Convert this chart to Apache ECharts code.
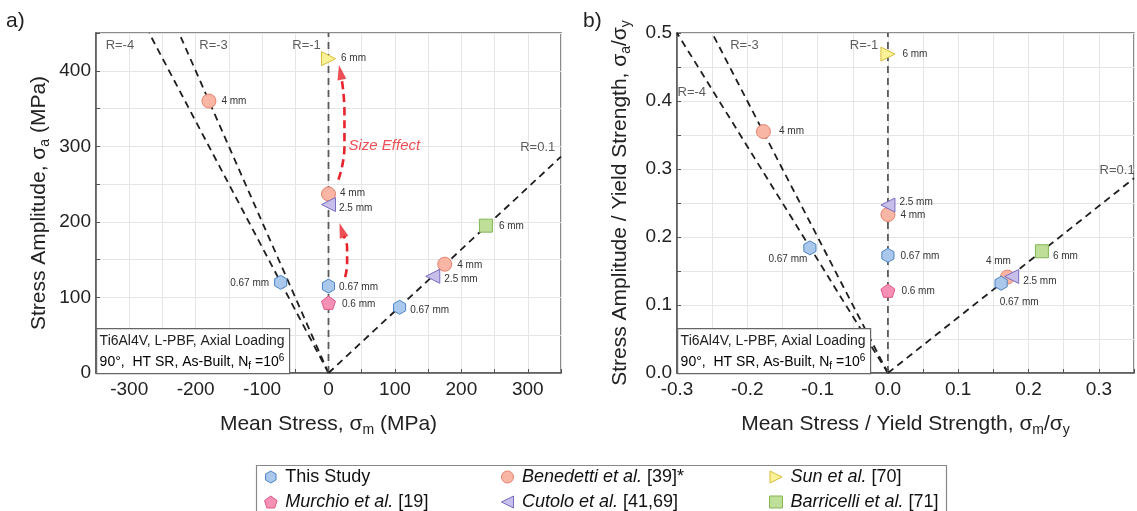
<!DOCTYPE html>
<html>
<head>
<meta charset="utf-8">
<script src="https://cdn.jsdelivr.net/npm/echarts@6/dist/echarts.min.js"></script>
<style>
  html, body { margin: 0; padding: 0; background: #fff; }
  #chart { width: 1137px; height: 511px; }
</style>
</head>
<body>
<div id="chart"></div>
<script>
// Fatigue strength at 1e6 cycles of L-PBF Ti6Al4V:
// (a) stress amplitude vs mean stress, (b) both normalised by yield strength.

// ---- panel a: [mean stress, stress amplitude] in MPa ----
const thisStudyA  = [[-72, 120], [0, 115], [107, 87]];
const murchioA    = [[0, 93]];
const benedettiA  = [[-180, 360], [0, 237], [175, 144]];
const cutoloA     = [[0, 223], [157, 128]];
const sunA        = [[0, 416]];
const barricelliA = [[237, 195]];

// ---- panel b: [mean / yield, amplitude / yield] ----
const thisStudyB  = [[-0.111, 0.184], [0, 0.173], [0.161, 0.132]];
const murchioB    = [[0, 0.121]];
const benedettiB  = [[-0.177, 0.355], [0, 0.233], [0.170, 0.141]];
const cutoloB     = [[0, 0.247], [0.176, 0.142]];
const sunB        = [[0, 0.469]];
const barricelliB = [[0.219, 0.179]];

// ---- specimen sizes written next to each point ----
const thisStudySize  = ['0.67 mm', '0.67 mm', '0.67 mm'];
const murchioSize    = ['0.6 mm'];
const benedettiSize  = ['4 mm', '4 mm', '4 mm'];
const cutoloSize     = ['2.5 mm', '2.5 mm'];
const sunSize        = ['6 mm'];
const barricelliSize = ['6 mm'];

// ---- constant stress-ratio lines (from the origin to the frame) ----
const rLabels = ['R=-4', 'R=-3', 'R=-1', 'R=0.1'];
const rEndsA  = [[-270, 450], [-225, 450], [0, 450], [350, 286.4]];
const rEndsB  = [[-0.3, 0.5], [-0.25, 0.5], [0, 0.5], [0.35, 0.2864]];

// ---- tick labels ----
const xTicksA = [-300, -200, -100, 0, 100, 200, 300];
const yTicksA = [0, 100, 200, 300, 400];
const xTicksB = [-0.3, -0.2, -0.1, 0.0, 0.1, 0.2, 0.3];
const yTicksB = [0.0, 0.1, 0.2, 0.3, 0.4, 0.5];

// ---- legend names ----
const NAMES = {
  thisStudy:  'This Study',
  murchio:    'Murchio et al. [19]',
  benedetti:  'Benedetti et al. [39]*',
  cutolo:     'Cutolo et al. [41,69]',
  sun:        'Sun et al. [70]',
  barricelli: 'Barricelli et al. [71]'
};

// ---------------------------------------------------------------
const FONT = 'Arial, "Liberation Sans", sans-serif';
const HEX  = 'path://M0,-10L8.66,-5L8.66,5L0,10L-8.66,5L-8.66,-5Z';
const PENT = 'path://M0,-10L9.51,-3.09L5.88,8.09L-5.88,8.09L-9.51,-3.09Z';
const TRI_RIGHT = 'path://M10,5L0,10L0,0Z';
const TRI_LEFT  = 'path://M0,5L10,0L10,10Z';

const STYLE = {
  thisStudy:  { symbol: HEX,        rotate: 0,   fill: '#a9c8ec', line: '#4d84c6', z: 6 },
  murchio:    { symbol: PENT,       rotate: 0,   fill: '#f690b4', line: '#e05a8a', z: 5 },
  benedetti:  { symbol: 'circle',   rotate: 0,   fill: '#f9b6a5', line: '#e8806c', z: 3 },
  cutolo:     { symbol: 'triangle', rotate: 90,  fill: '#c7bfea', line: '#7a6cc2', z: 4 },
  sun:        { symbol: 'triangle', rotate: -90, fill: '#fbf196', line: '#d9bd3a', z: 4 },
  barricelli: { symbol: 'rect',     rotate: 0,   fill: '#bfdf98', line: '#82b655', z: 4 }
};

// where each size label sits relative to its marker
const R = (d, dy) => ({ position: 'right', distance: d, offset: [0, dy || 0] });
const L = (d, dy) => ({ position: 'left', distance: d, offset: [0, dy || 0] });
const AT = (dx, dy) => ({ position: 'inside', offset: [dx, dy] });

const PLACE_A = {
  thisStudy:  [L(5, 1), R(4, 1), R(4, 3)],
  murchio:    [R(6, 2)],
  benedetti:  [R(5, 0), R(4, -1), R(5, 1)],
  cutolo:     [R(3, 4), R(4, 3)],
  sun:        [R(5, 0)],
  barricelli: [R(6, 1)]
};
const PLACE_B = {
  thisStudy:  [AT(-22, 11), R(6, 1), AT(18, 19)],
  murchio:    [R(6, 1)],
  benedetti:  [R(8, 0), R(5, 1), AT(-9, -16)],
  cutolo:     [R(4, -3), R(4, 5)],
  sun:        [R(7, 0)],
  barricelli: [R(4, 5)]
};

const DATA_A = { thisStudy: thisStudyA, murchio: murchioA, benedetti: benedettiA,
                 cutolo: cutoloA, sun: sunA, barricelli: barricelliA };
const DATA_B = { thisStudy: thisStudyB, murchio: murchioB, benedetti: benedettiB,
                 cutolo: cutoloB, sun: sunB, barricelli: barricelliB };
const SIZES  = { thisStudy: thisStudySize, murchio: murchioSize, benedetti: benedettiSize,
                 cutolo: cutoloSize, sun: sunSize, barricelli: barricelliSize };

function markerSeries(key, panel) {
  const st = STYLE[key];
  const values = panel === 0 ? DATA_A[key] : DATA_B[key];
  const places = panel === 0 ? PLACE_A[key] : PLACE_B[key];
  return {
    type: 'scatter',
    name: NAMES[key],
    xAxisIndex: panel, yAxisIndex: panel,
    symbol: st.symbol,
    symbolRotate: st.rotate,
    symbolKeepAspect: true,
    symbolSize: st.symbol === 'rect' ? 13 : 14,
    z: st.z,
    itemStyle: { color: st.fill, borderColor: st.line, borderWidth: 1, opacity: 1 },
    label: { show: true, fontSize: 10, color: '#333', fontFamily: FONT },
    emphasis: { disabled: true },
    data: values.map((v, i) => ({
      value: v,
      label: Object.assign({ formatter: SIZES[key][i] }, places[i])
    }))
  };
}

function rLineSeries(ends, panel) {
  return ends.map((end, i) => ({
    type: 'line',
    xAxisIndex: panel, yAxisIndex: panel,
    symbol: 'none', silent: true, z: 2,
    lineStyle: { color: rLabels[i] === 'R=-1' ? '#5a5a5a' : '#1e1e1e', width: 1.8, type: [7, 5] },
    data: [[0, 0], end]
  }));
}

// anchors for the R= captions (data units)
const R_TEXT_A = [[-314, 434], [-173, 434], [-33, 434], [315, 299]];
const R_TEXT_B = [[-0.279, 0.413], [-0.204, 0.482], [-0.034, 0.482], [0.326, 0.2985]];
function rTextSeries(anchors, panel) {
  return {
    type: 'scatter', xAxisIndex: panel, yAxisIndex: panel,
    symbolSize: 0, silent: true, z: 7,
    label: { show: true, position: 'inside', fontSize: 13, color: '#333', fontFamily: FONT },
    data: anchors.map((a, i) => ({ value: a, label: { formatter: rLabels[i] } }))
  };
}

// "Size Effect" arrows in panel a (data units)
const arrowUpperPath = [[15, 256], [24, 300], [24, 345], [20, 388]];
const arrowLowerPath = [[25, 127], [28, 145], [28, 166], [23, 181]];
const arrowHeads = [
  { at: [18, 398], rotate: 11 },
  { at: [20, 189], rotate: 18 }
];
const RED = '#e8232b';

function arrowSeries() {
  const shaft = path => ({
    type: 'line', xAxisIndex: 0, yAxisIndex: 0, symbol: 'none', silent: true,
    smooth: true, z: 6,
    lineStyle: { color: RED, width: 2.6, type: [8, 5] },
    data: path
  });
  return [
    shaft(arrowUpperPath),
    shaft(arrowLowerPath),
    {
      type: 'scatter', xAxisIndex: 0, yAxisIndex: 0, silent: true, z: 6,
      symbol: 'triangle', symbolSize: [9, 15],
      itemStyle: { color: RED },
      data: arrowHeads.map(h => ({ value: h.at, symbolRotate: h.rotate }))
    },
    {
      type: 'scatter', xAxisIndex: 0, yAxisIndex: 0, silent: true, z: 6,
      symbolSize: 0,
      label: { show: true, position: 'inside', formatter: 'Size Effect',
               fontSize: 15, fontStyle: 'italic', color: RED, fontFamily: FONT },
      data: [[84, 301]]
    }
  ];
}

function tickFormatter(ticks, digits) {
  return v => {
    const t = ticks.find(t => Math.abs(t - v) < 1e-6);
    return t === undefined ? '' : (digits ? t.toFixed(digits) : String(t));
  };
}

const NAME_RICH = {
  t: { fontSize: 21, color: '#222', fontFamily: FONT },
  s: { fontSize: 14, color: '#222', fontFamily: FONT, padding: [12, 0, 0, 0] }
};

function axisBase(extra) {
  return Object.assign({
    type: 'value',
    axisLine: { show: true, onZero: false, lineStyle: { color: '#555', width: 1.5 } },
    axisTick: { show: true, inside: true, length: 4, lineStyle: { color: '#555', width: 1 } },
    splitLine: { show: true, lineStyle: { color: '#e5e5e5', width: 1 } },
    axisLabel: { fontSize: 19, color: '#222', fontFamily: FONT },
    nameLocation: 'middle',
    nameTextStyle: { rich: NAME_RICH }
  }, extra);
}

const chart = echarts.init(document.getElementById('chart'), null, { renderer: 'canvas' });

// legend icons: triangles drawn pointing the same way as on the plot
const LEGEND_ICON = {
  [NAMES.sun]: TRI_RIGHT,
  [NAMES.cutolo]: TRI_LEFT
};
const legendRich = {
  p: { width: 3 },
  i: { fontStyle: 'italic', fontSize: 18, color: '#111', fontFamily: FONT }
};
function legendFormatter(name) {
  const m = name.match(/^(.*et al\.)(.*)$/);
  return '{p|}' + (m ? '{i|' + m[1] + '}' + m[2] : name);
}
function legendColumn(left, names) {
  return {
    type: 'plain', orient: 'vertical', left: left, top: 468, height: 80, width: 260,
    padding: 0,
    itemWidth: 13, itemHeight: 12, itemGap: 7,
    selectedMode: false,
    itemStyle: { borderWidth: 1 },
    data: names.map(n => LEGEND_ICON[n] ? { name: n, icon: LEGEND_ICON[n] } : n),
    formatter: legendFormatter,
    textStyle: { fontSize: 18, color: '#111', fontFamily: FONT, rich: legendRich }
  };
}

function infoBox(x) {
  return {
    type: 'group', left: x, top: 328,
    children: [
      { type: 'rect', z: 20, shape: { x: 0, y: 0, width: 193, height: 45 },
        style: { fill: '#fff', stroke: '#666', lineWidth: 1.2 } },
      { type: 'text', z: 21, x: 3, y: 6,
        style: { text: 'Ti6Al4V, L-PBF, Axial Loading', font: '14px ' + FONT, fill: '#222' } },
      { type: 'text', z: 21, x: 3, y: 25,
        style: {
          text: '{n|90°,  HT SR, As-Built, N}{sb|f}{n| =10}{sp|6}',
          rich: {
            n:  { fontSize: 14, fontFamily: FONT, color: '#222', lineHeight: 18 },
            sb: { fontSize: 10, fontFamily: FONT, color: '#222', padding: [8, 0, 0, 0] },
            sp: { fontSize: 10, fontFamily: FONT, color: '#222', padding: [0, 0, 8, 0] }
          }
        } }
    ]
  };
}

const keys = ['thisStudy', 'murchio', 'benedetti', 'cutolo', 'sun', 'barricelli'];

const option = {
  animation: false,
  backgroundColor: '#fff',
  textStyle: { fontFamily: FONT },
  grid: [
    { left: 96, top: 33, width: 465, height: 340, show: true, borderColor: '#666', borderWidth: 1.5 },
    { left: 677, top: 33, width: 465, height: 340, show: true, borderColor: '#666', borderWidth: 1.5 }
  ],
  xAxis: [
    axisBase({
      gridIndex: 0, min: -350, max: 350, interval: 50,
      axisLabel: { fontSize: 19, color: '#222', fontFamily: FONT, margin: 7,
                   formatter: tickFormatter(xTicksA, 0) },
      name: '{t|Mean Stress, σ}{s|m}{t| (MPa)}', nameGap: 38
    }),
    axisBase({
      gridIndex: 1, min: -0.3, max: 0.35, interval: 0.05,
      axisLabel: { fontSize: 19, color: '#222', fontFamily: FONT, margin: 7,
                   formatter: tickFormatter(xTicksB, 1) },
      name: '{t|Mean Stress / Yield Strength, σ}{s|m}{t|/σ}{s|y}', nameGap: 38
    })
  ],
  yAxis: [
    axisBase({
      gridIndex: 0, min: 0, max: 450, interval: 50,
      axisLabel: { fontSize: 19, color: '#222', fontFamily: FONT, margin: 5,
                   formatter: tickFormatter(yTicksA, 0) },
      name: '{t|Stress Amplitude, σ}{s|a}{t| (MPa)}', nameGap: 44
    }),
    axisBase({
      gridIndex: 1, min: 0, max: 0.5, interval: 0.05,
      axisLabel: { fontSize: 19, color: '#222', fontFamily: FONT, margin: 5,
                   formatter: tickFormatter(yTicksB, 1) },
      name: '{t|Stress Amplitude / Yield Strength, σ}{s|a}{t|/σ}{s|y}', nameGap: 44
    })
  ],
  legend: [
    legendColumn(264, [NAMES.thisStudy, NAMES.murchio]),
    legendColumn(501, [NAMES.benedetti, NAMES.cutolo]),
    legendColumn(769, [NAMES.sun, NAMES.barricelli])
  ],
  graphic: [
    { type: 'text', left: 6, top: 11, style: { text: 'a)', font: '21px ' + FONT, fill: '#222' } },
    { type: 'text', left: 583, top: 11, style: { text: 'b)', font: '21px ' + FONT, fill: '#222' } },
    infoBox(96),
    infoBox(677),
    { type: 'rect', left: 254, top: 463, z: 0,
      shape: { x: 0, y: 0, width: 690, height: 60 },
      style: { fill: 'none', stroke: '#888', lineWidth: 1.2 } }
  ],
  series: [].concat(
    rLineSeries(rEndsA, 0),
    rLineSeries(rEndsB, 1),
    rTextSeries(R_TEXT_A, 0),
    rTextSeries(R_TEXT_B, 1),
    arrowSeries(),
    keys.map(k => markerSeries(k, 0)),
    keys.map(k => markerSeries(k, 1))
  )
};

chart.setOption(option);
</script>
</body>
</html>
